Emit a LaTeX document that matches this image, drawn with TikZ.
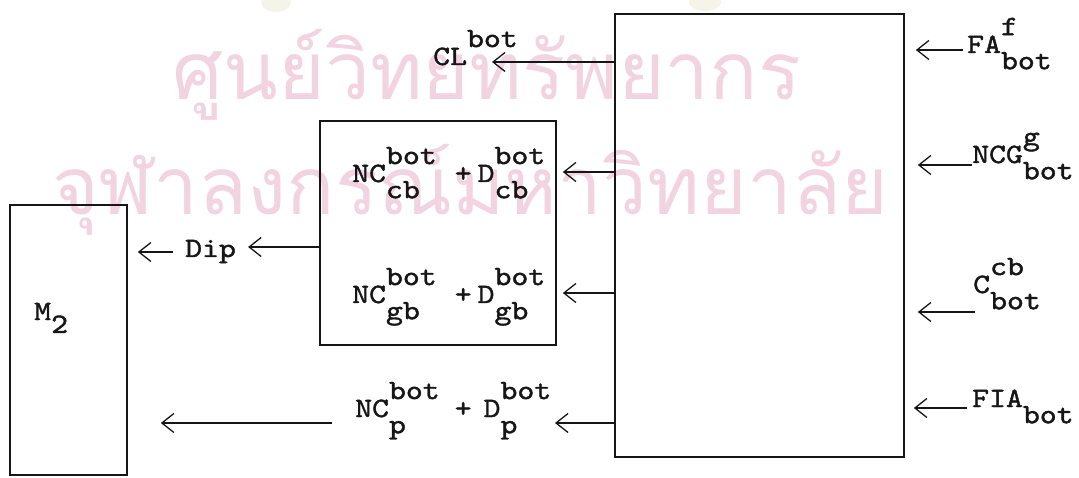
\documentclass[tikz,border=0pt]{standalone}
\usepackage{fontspec}
\usetikzlibrary{arrows.meta}
\newfontfamily\tw[FakeBold=1.4,FakeStretch=1.15]{lmmono10-regular.otf}
\newfontfamily\thaifont[Script=Thai]{Loma}
\definecolor{ink}{RGB}{22,22,22}
\definecolor{wmark}{RGB}{242,212,224}
\definecolor{logo}{RGB}{244,245,232}
% base text with a raised and a lowered index, stacked
\newcommand\subsup[3]{#1\setbox0\hbox{#2}\setbox2\hbox{#3}%
  \ifdim\wd0>\wd2 \rlap{\raisebox{-0.58em}{\copy2}}\raisebox{0.64em}{\copy0}%
  \else\rlap{\raisebox{0.64em}{\copy0}}\raisebox{-0.58em}{\copy2}\fi}
\begin{document}
\begin{tikzpicture}[x=1pt,y=-1pt,
  box/.style={draw=ink,line width=1.7pt,inner sep=0pt},
  lab/.style={inner sep=0pt,anchor=base west,text=ink,font=\tw\fontsize{28}{28}\selectfont},
  arr/.style={draw=ink,line width=1.3pt,-{Straight Barb[length=12pt,width=19pt,line width=1.3pt]}},
  wm/.style={text=wmark,inner sep=0pt,font=\thaifont\fontsize{80}{80}\selectfont}]
\useasboundingbox[fill=white] (0,0) rectangle (1079,478);

% background stamp
\fill[logo] (276,2) ellipse (15pt and 10pt);
\fill[logo] (705,2) ellipse (16pt and 9pt);
\node[wm] (wm1) at (487,75) {ศูนย์วิทยทรัพยากร};
\node[wm] (wm2) at (470,190) {จุฬาลงกรณ์มหาวิทยาลัย};

% boxes
\node[box,minimum width=289pt,minimum height=443pt] (main) at (759.5,235.5) {};
\node[box,minimum width=236pt,minimum height=224pt] (mid) at (438,233) {};
\node[box,minimum width=117pt,minimum height=270pt] (m2) at (68.5,340) {};

% labels
\node[lab] (cl) at (433,65) {CL\raisebox{0.64em}{bot}};
\node[lab] (ncb) at (352,182) {\subsup{NC}{bot}{cb}\hspace{18pt}+\hspace{6pt}\subsup{D}{bot}{cb}};
\node[lab] (ngb) at (352,303) {\subsup{NC}{bot}{gb}\hspace{18pt}+\hspace{6pt}\subsup{D}{bot}{gb}};
\node[lab] (dip) at (185,257) {Dip};
\node[lab] (mtwo) at (34,320) {M\raisebox{-0.46em}{2}};
\node[lab] (np) at (355,417) {\subsup{NC}{bot}{p}\hspace{15pt}+\hspace{12pt}\subsup{D}{bot}{p}};
\node[lab] (fa) at (967,53) {\subsup{FA}{f}{bot}};
\node[lab] (ncg) at (972,163) {\subsup{NCG}{g}{bot}};
\node[lab] (ccb) at (973,293) {\subsup{C}{cb}{bot}};
\node[lab] (fia) at (972,407) {FIA\raisebox{-0.58em}{bot}};

% flows out of the main block
\draw[arr] (main.west |- 0,62) -- (492,62);
\draw[arr] (main.west |- 0,172) -- ([xshift=6pt]mid.east |- 0,172);
\draw[arr] (main.west |- 0,293) -- ([xshift=6pt]mid.east |- 0,293);
\draw[arr] (main.west |- 0,423) -- (555,423);
\draw[arr] ([xshift=-23pt]np.west |- 0,423) -- ([xshift=33pt]m2.east |- 0,423);
\draw[arr] (mid.west |- 0,247) -- ([xshift=12pt]dip.east |- 0,247);
\draw[arr] ([xshift=-12pt]dip.west |- 0,252) -- ([xshift=10pt]m2.east |- 0,252);

% flows into the main block
\draw[arr] ([xshift=-4pt]fa.west |- 0,50) -- ([xshift=11pt]main.east |- 0,50);
\draw[arr] (ncg.west |- 0,165) -- ([xshift=13pt]main.east |- 0,165);
\draw[arr] ([xshift=2pt]ccb.west |- 0,312) -- ([xshift=13pt]main.east |- 0,312);
\draw[arr] ([xshift=-5pt]fia.west |- 0,408) -- ([xshift=9pt]main.east |- 0,408);
\end{tikzpicture}
\end{document}
